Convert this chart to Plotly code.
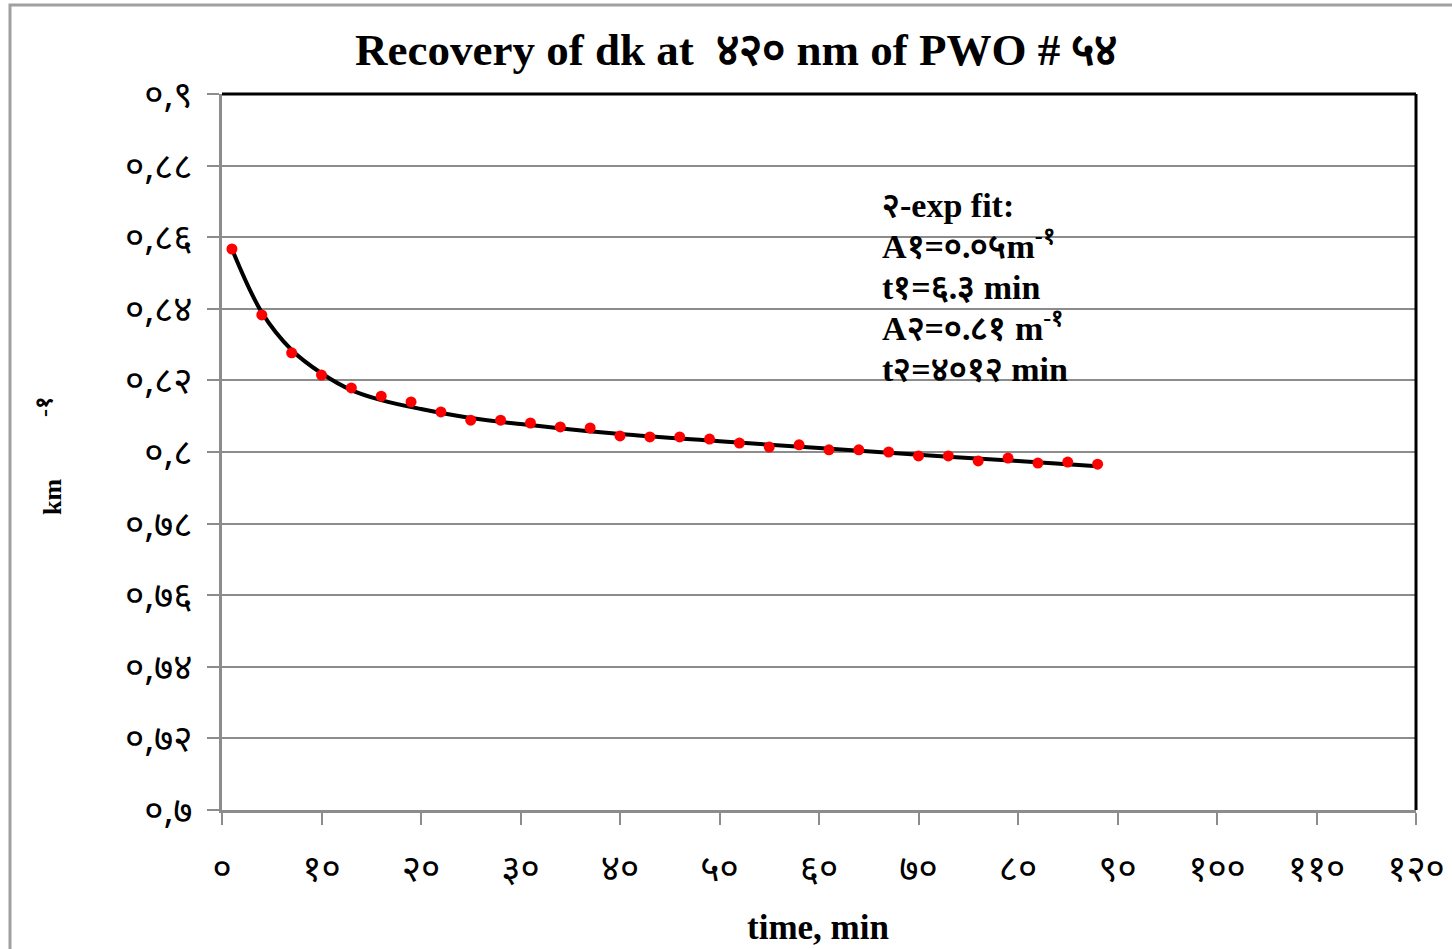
import plotly.graph_objects as go

# Data
t_meas = [1, 4, 7, 10, 13, 16, 19, 22, 25, 28, 31, 34, 37, 40, 43, 46, 49, 52, 55, 58,
          61, 64, 67, 70, 73, 76, 79, 82, 85, 88]
k_meas = [0.8567, 0.8383, 0.8277, 0.8215, 0.8179, 0.8156, 0.8140, 0.8112, 0.8089, 0.8089,
          0.8081, 0.8070, 0.8067, 0.8045, 0.8042, 0.8042, 0.8036, 0.8025, 0.8014, 0.8020,
          0.8006, 0.8006, 0.8000, 0.7989, 0.7989, 0.7975, 0.7983, 0.7969, 0.7972, 0.7966]

t_fit = [1, 4, 7, 10, 13, 16, 20, 25, 30, 40, 50, 60, 70, 80, 88]
k_fit = [0.8567, 0.8390, 0.8285, 0.8220, 0.8173, 0.8145, 0.8120, 0.8095, 0.8078, 0.8050,
         0.8030, 0.8011, 0.7992, 0.7975, 0.7960]

x_tickvals = [0, 10, 20, 30, 40, 50, 60, 70, 80, 90, 100, 110, 120]
x_ticktext = ["०", "१०", "२०", "३०", "४०", "५०", "६०", "७०", "८०", "९०", "१००", "११०", "१२०"]
y_tickvals = [0.7, 0.72, 0.74, 0.76, 0.78, 0.8, 0.82, 0.84, 0.86, 0.88, 0.9]
y_ticktext = ["०,७", "०,७२", "०,७४", "०,७६", "०,७८", "०,८", "०,८२", "०,८४", "०,८६", "०,८८", "०,९"]

title_text = "Recovery of dk at  ४२० nm of PWO # ५४"
fit_lines = ["२-exp fit:", "A१=०.०५m<sup>-१</sup>", "t१=६.३ min",
             "A२=०.८१ m<sup>-१</sup>", "t२=४०१२ min"]

serif = "Liberation Serif, Times New Roman, serif"
deva = "Noto Sans Devanagari, Lohit Devanagari, Noto Sans, DejaVu Sans, sans-serif"

fig = go.Figure()
fig.add_trace(go.Scatter(x=t_fit, y=k_fit, mode="lines", line=dict(color="black", width=4, shape="spline"),
                         showlegend=False, hoverinfo="skip"))
fig.add_trace(go.Scatter(x=t_meas, y=k_meas, mode="markers", marker=dict(color="#ff0000", size=11),
                         showlegend=False))

W, H = 1452, 949
L, R, T, B = 222, 1416, 94, 810

fig.update_layout(
    width=W, height=H,
    margin=dict(l=L, r=W - R, t=T, b=H - B, autoexpand=False),
    paper_bgcolor="white", plot_bgcolor="white",
    xaxis=dict(range=[0, 120], tickvals=x_tickvals, ticktext=x_ticktext, showgrid=False,
               showline=True, linecolor="#8c8c8c", linewidth=3, ticks="outside", ticklen=12,
               tickwidth=2, tickcolor="#8c8c8c", zeroline=False,
               tickfont=dict(family=deva, size=37, color="black"), ticklabelstandoff=12),
    yaxis=dict(range=[0.7, 0.9], tickvals=y_tickvals, ticktext=y_ticktext, showgrid=True,
               gridcolor="#8c8c8c", gridwidth=2, showline=True, linecolor="#8c8c8c", linewidth=3,
               ticks="outside", ticklen=12, tickwidth=2, tickcolor="#8c8c8c", zeroline=False,
               tickfont=dict(family=deva, size=37, color="black"), ticklabelstandoff=7),
)

# top and right black borders of plot area
fig.add_shape(type="line", xref="paper", yref="paper", x0=0, x1=1, y0=1, y1=1,
              line=dict(color="black", width=3))
fig.add_shape(type="line", xref="paper", yref="paper", x0=1, x1=1, y0=0, y1=1,
              line=dict(color="black", width=3))
# outer chart border
px = lambda v: (v - L) / (R - L)
py = lambda v: (B - v) / (B - T)
fig.add_shape(type="rect", xref="paper", yref="paper", x0=px(10), x1=px(1470), y0=py(970), y1=py(5),
              line=dict(color="#a0a0a0", width=3), layer="below")

fig.add_annotation(text="<b>" + title_text + "</b>", xref="paper", yref="paper", x=px(736), y=py(50),
                   xanchor="center", yanchor="middle",
                   showarrow=False, font=dict(family=serif, size=45, color="black"))
fig.add_annotation(text="<b>time, min</b>", xref="paper", yref="paper", x=px(818), y=py(927),
                   xanchor="center", yanchor="middle",
                   showarrow=False, font=dict(family=serif, size=35, color="black"))
fig.add_annotation(text="<b>km</b>", xref="paper", yref="paper", x=px(52), y=py(497), textangle=-90,
                   xanchor="center", yanchor="middle",
                   showarrow=False, font=dict(family=serif, size=26, color="black"))
fig.add_annotation(text="<b>-१</b>", xref="paper", yref="paper", x=px(44), y=py(407), textangle=-90,
                   xanchor="center", yanchor="middle",
                   showarrow=False, font=dict(family=serif, size=24, color="black"))

baselines = [218, 259, 300, 341, 382]
for txt, yy in zip(fit_lines, baselines):
    fig.add_annotation(text="<b>" + txt + "</b>", xref="paper", yref="paper", x=px(880), y=py(yy + 8),
                       xanchor="left", yanchor="bottom", showarrow=False,
                       font=dict(family=serif, size=34, color="black"))

fig.write_html("out.html", config={"displayModeBar": False},
               post_script="document.body.style.margin='0';document.body.style.overflow='hidden';")
